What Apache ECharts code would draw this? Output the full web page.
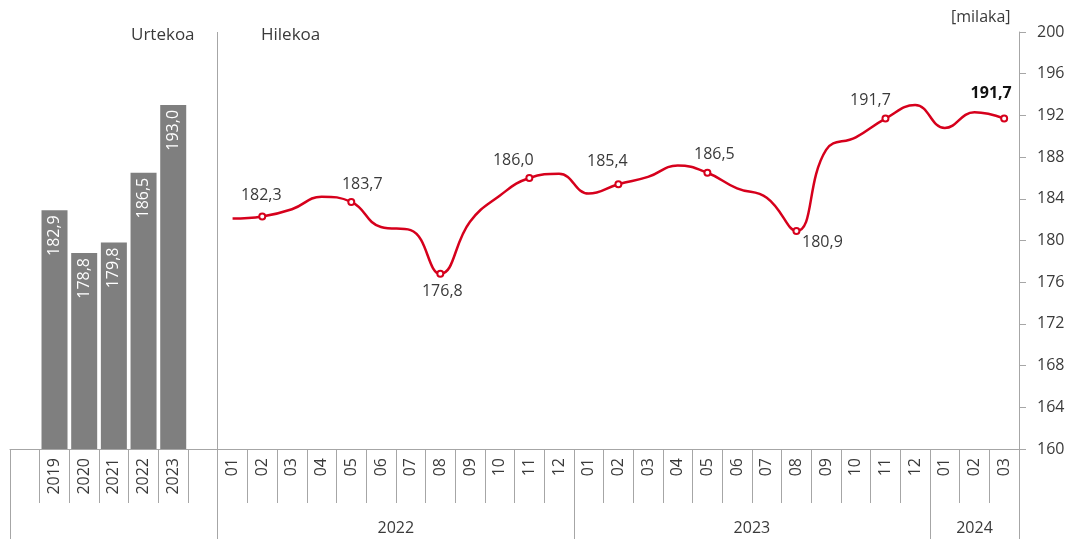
<!DOCTYPE html>
<html>
<head>
<meta charset="utf-8">
<script src="https://cdn.jsdelivr.net/npm/echarts@6/dist/echarts.min.js"></script>
<style>
html, body { margin: 0; padding: 0; background: #fff; }
#chart { width: 1070px; height: 539px; }
</style>
</head>
<body>
<div id="chart"></div>
<script>
// urteko datuak
var years = ['2019', '2020', '2021', '2022', '2023'];
var yearValues = [182.9, 178.8, 179.8, 186.5, 193.0];

// hileko datuak (2022-01 .. 2024-03)
var months = ['01', '02', '03', '04', '05', '06', '07', '08', '09', '10', '11', '12',
	'01', '02', '03', '04', '05', '06', '07', '08', '09', '10', '11', '12',
	'01', '02', '03'];
var monthValues = [182.1, 182.3, 183.0, 184.2, 183.7, 181.3, 181.0, 176.8, 181.8, 184.3, 186.0, 186.4,
	184.5, 185.4, 186.1, 187.2, 186.5, 185.0, 184.1, 180.9, 188.7, 189.9, 191.7, 193.0,
	190.8, 192.3, 191.7];

var groupNames = ['2022', '2023', '2024'];
var groupSizes = [12, 12, 3];

// etiketa duten hilabeteak eta haien desplazamendua
var labelIdx = [1, 4, 7, 10, 13, 16, 19, 22, 26];
var labelOffsets = [[-1, -4], [11, 0], [2, 1], [-16, -1], [-11, -6], [7, -1], [26, -6], [-15, -1], [-13, -8]];
var labelBelow = [7, 19];

var yMin = 160, yMax = 200, yStep = 4;

var grey = '#a6a6a6';
var textColor = '#3a3a3a';
var font = 'Open Sans';
var fs = 16;

// kategoria ardatza: hutsunea + urteak + hutsunea + hilabeteak
var categories = [''].concat(years, [''], months);
var nLead = years.length + 2;

var barData = ['-'].concat(yearValues, ['-']);
months.forEach(function () { barData.push('-'); });

var lineData = [];
for (var i = 0; i < nLead; i++) lineData.push('-');
monthValues.forEach(function (v, i) {
	var k = labelIdx.indexOf(i);
	if (k < 0) {
		lineData.push({ value: v, symbol: 'none' });
		return;
	}
	var last = i === monthValues.length - 1;
	lineData.push({
		value: v,
		symbol: 'emptyCircle',
		label: {
			show: true,
			position: labelBelow.indexOf(i) >= 0 ? 'bottom' : 'top',
			offset: labelOffsets[k],
			fontWeight: last ? 'bold' : 'normal',
			color: last ? '#111' : textColor
		}
	});
});

// taldeen mugak eta erdiguneak
var bounds = [0, nLead];
var centers = [];
var pos = nLead;
groupSizes.forEach(function (s) {
	centers.push(pos + s / 2);
	pos += s;
	bounds.push(pos);
});

function fmt(p) { return p.value.toFixed(1).replace('.', ','); }

var chart = echarts.init(document.getElementById('chart'));
chart.setOption({
	animation: false,
	textStyle: { fontFamily: font },
	title: [
		{ text: 'Urtekoa', left: 126, top: 22, textStyle: { fontSize: 17, fontWeight: 'normal', color: textColor, fontFamily: font } },
		{ text: 'Hilekoa', left: 256, top: 22, textStyle: { fontSize: 17, fontWeight: 'normal', color: textColor, fontFamily: font } },
		{ text: '[milaka]', left: 946, top: 4, textStyle: { fontSize: fs, fontWeight: 'normal', color: textColor, fontFamily: font } }
	],
	grid: { left: 10, right: 51, top: 32, bottom: 90, containLabel: false },
	xAxis: [{
		type: 'category',
		data: categories,
		boundaryGap: true,
		axisLine: { onZero: false, lineStyle: { color: grey } },
		axisTick: { show: true, interval: 0, length: 54, lineStyle: { color: grey } },
		axisLabel: { interval: 0, rotate: 90, margin: 9, fontSize: fs, color: textColor, fontFamily: font }
	}, {
		type: 'value',
		min: 0,
		max: categories.length,
		position: 'bottom',
		offset: 0,
		axisLine: { show: false, onZero: false },
		splitLine: { show: false },
		axisTick: { show: true, customValues: bounds, length: 90, lineStyle: { color: grey } },
		axisLabel: {
			customValues: centers,
			margin: 71,
			fontSize: fs,
			color: textColor,
			fontFamily: font,
			formatter: function (v) {
				var k = centers.indexOf(v);
				return k >= 0 ? groupNames[k] : '';
			}
		}
	}],
	yAxis: {
		type: 'value',
		position: 'right',
		min: yMin,
		max: yMax,
		interval: yStep,
		splitLine: { show: false },
		axisLine: { show: true, onZero: false, lineStyle: { color: grey } },
		axisTick: { show: true, length: 7, lineStyle: { color: grey } },
		axisLabel: { margin: 18, fontSize: fs, color: textColor, fontFamily: font }
	},
	series: [{
		name: 'Urtekoa',
		type: 'bar',
		data: barData,
		barWidth: 26,
		itemStyle: { color: '#7f7f7f' },
		label: {
			show: true,
			position: 'insideTop',
			rotate: 90,
			align: 'right',
			verticalAlign: 'middle',
			distance: 5,
			fontSize: fs,
			color: '#fff',
			fontFamily: font,
			formatter: fmt
		}
	}, {
		name: 'Hilekoa',
		type: 'line',
		data: lineData,
		smooth: 0.45,
		symbolSize: 6,
		lineStyle: { color: '#d6001c', width: 2.5 },
		itemStyle: { color: '#d6001c', borderWidth: 1.5 },
		label: {
			show: false,
			fontSize: fs,
			color: textColor,
			fontFamily: font,
			formatter: fmt
		},
		z: 3
	}, {
		// Urtekoa / Hilekoa bereizlea
		name: 'bereizlea',
		type: 'line',
		xAxisIndex: 1,
		data: [],
		markLine: {
			silent: true,
			symbol: 'none',
			label: { show: false },
			lineStyle: { color: grey, type: 'solid', width: 1 },
			data: [{ xAxis: nLead }]
		}
	}]
});
</script>
</body>
</html>
